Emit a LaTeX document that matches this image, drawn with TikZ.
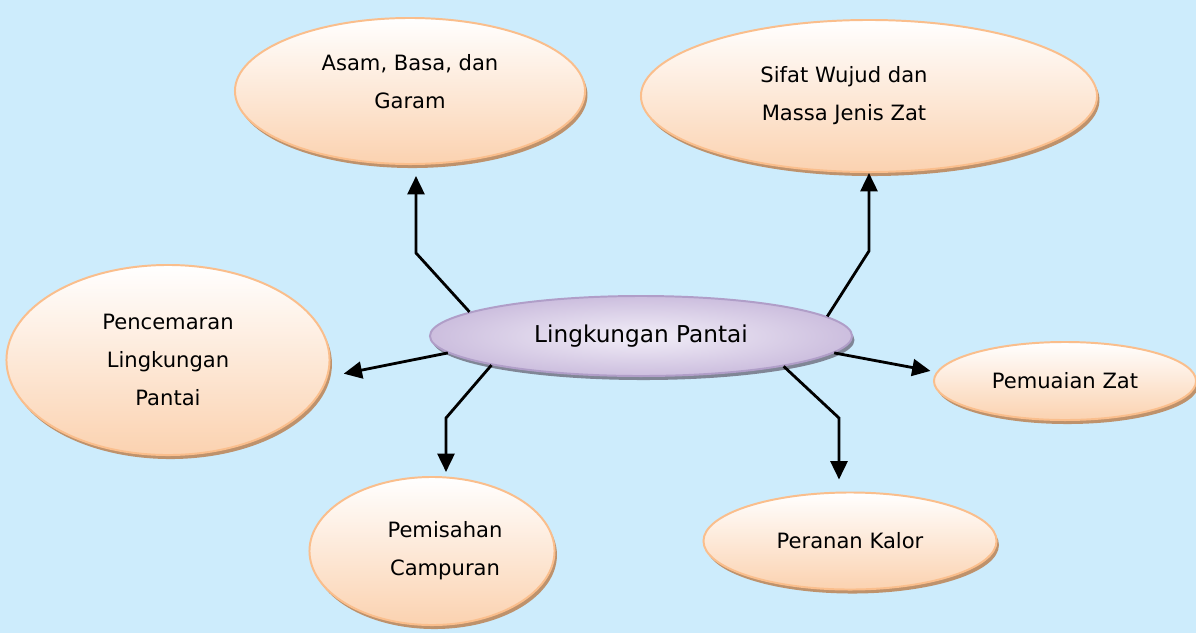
\documentclass[tikz,border=0pt]{standalone}
\usepackage{fontspec}
\setmainfont{DejaVu Sans}
\usepackage{xcolor}
\usetikzlibrary{arrows.meta,positioning,shapes.geometric,shadows}
\definecolor{bgblue}{RGB}{205,236,252}
\definecolor{peach}{RGB}{251,210,176}
\definecolor{peachline}{RGB}{250,190,140}
\definecolor{peachshadow}{RGB}{190,146,108}
\definecolor{lavlight}{RGB}{242,238,248}
\definecolor{lavdark}{RGB}{204,190,222}
\definecolor{lavline}{RGB}{176,158,200}
\definecolor{lavshadow}{RGB}{128,134,150}
\tikzset{%
  % classes
  blob/.style={ellipse, draw, line width=1.4pt, inner sep=0pt, align=center},
  topic/.style={blob, draw=peachline, top color=white, bottom color=peach,
    font=\fontsize{15}{27}\selectfont,
    drop shadow={shadow xshift=0.06cm, shadow yshift=-0.1cm, fill=peachshadow, opacity=1}},
  hub/.style={blob, draw=lavline, inner color=lavlight, outer color=lavdark,
    font=\fontsize{16.5}{20}\selectfont,
    drop shadow={shadow xshift=0.06cm, shadow yshift=-0.1cm, fill=lavshadow, opacity=1}},
  oval/.style 2 args={minimum width=#1, minimum height=#2},
  % edge styles
  rel/.style={-{Triangle[length=13pt,width=12pt]}, line width=2pt},
}
\newcommand{\ovalnode}[5][]{%
  % #1 = extra TikZ options
  % #2 = class (topic | hub)
  % #3 = node name
  % #4 = position
  % #5 = content
  \node[#2, #1] (#3) at (#4) {#5};
}

\begin{document}
\begin{tikzpicture}[x=0.025cm, y=-0.025cm]
  \useasboundingbox[fill=bgblue] (0,0) rectangle (1196,633);

  \ovalnode[oval={10.55cm}{2cm}]{hub}{pantai}{641,336}{Lingkungan Pantai};
  \ovalnode[oval={8.75cm}{3.65cm}]{topic}{asam}{410,91}{Asam, Basa, dan\\Garam\rule[-0.5cm]{0pt}{0pt}};
  \ovalnode[oval={11.4cm}{3.8cm}]{topic}{sifat}{869,96}{Sifat Wujud dan\makebox[1.25cm]{}\\Massa Jenis Zat\makebox[1.25cm]{}};
  \ovalnode[oval={8.075cm}{4.75cm}]{topic}{cemar}{168,360}{Pencemaran\\Lingkungan\\Pantai};
  \ovalnode[oval={6.55cm}{1.95cm}]{topic}{muai}{1065,381}{Pemuaian Zat};
  \ovalnode[oval={6.125cm}{3.7cm}]{topic}{pisah}{432,551}{\makebox[0.65cm]{}Pemisahan\\\makebox[0.65cm]{}Campuran};
  \ovalnode[oval={7.325cm}{2.425cm}]{topic}{kalor}{850,541}{Peranan Kalor};

  \coordinate (asambend) at (416,253);
  \coordinate (sifatbend) at (869,251);
  \coordinate (pisahbend) at (446,418);
  \coordinate (kalorbend) at (839,418);

  \draw[rel, shorten >=0.275cm] (pantai.172) -- (asambend) -- (asambend |- asam.south);
  \draw[rel] (pantai.6) -- (sifatbend) -- (sifatbend |- sifat.south);
  \draw[rel, shorten >=0.4cm] (pantai.185) -- (cemar.354);
  \draw[rel, shorten >=0.15cm] (pantai.355) -- (muai.176);
  \draw[rel, shorten >=0.1cm] (pantai.191) -- (pisahbend) -- (pisahbend |- pisah.north);
  \draw[rel, shorten >=0.3cm] (pantai.348) -- (kalorbend) -- (kalorbend |- kalor.north);
\end{tikzpicture}
\end{document}
